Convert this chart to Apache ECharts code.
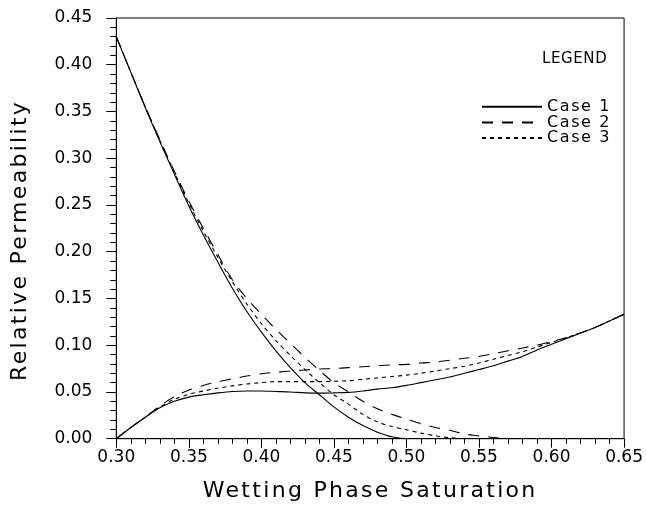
<!DOCTYPE html>
<html>
<head>
<meta charset="utf-8">
<script src="https://cdn.jsdelivr.net/npm/echarts@6/dist/echarts.min.js"></script>
<style>html,body{margin:0;padding:0;background:#fff;}#c{width:646px;height:508px;}</style>
</head>
<body>
<div id="c"></div>
<script>
// Wetting phase saturation grid
var sw = [0.30,0.31,0.32,0.33,0.34,0.35,0.36,0.37,0.38,0.39,0.40,0.41,0.42,0.43,0.44,0.45,0.46,0.47,0.48,0.49,0.50,
          0.51,0.52,0.53,0.54,0.55,0.56,0.57,0.58,0.59,0.60,0.61,0.62,0.63,0.64,0.65];

// Decreasing (non-wetting) relative permeability curves
var case1Dec = [0.430,0.392,0.354,0.318,0.283,0.249,0.218,0.189,0.161,0.136,0.114,0.094,0.076,0.060,0.047,0.034,0.023,0.014,0.007,0.002,0.000];
var case2Dec = [0.430,0.392,0.355,0.320,0.286,0.254,0.225,0.197,0.170,0.150,0.133,0.117,0.102,0.087,0.073,0.060,0.050,0.040,0.032,0.026,0.021,0.016,0.012,0.009,0.005,0.003,0.0012,0.0002,0.000];
var case3Dec = [0.430,0.392,0.355,0.319,0.285,0.252,0.222,0.194,0.168,0.144,0.123,0.105,0.089,0.074,0.060,0.047,0.037,0.026,0.018,0.013,0.0095,0.006,0.003,0.001,0.000];

// Increasing (wetting) relative permeability curves
var case1Inc = [0.000,0.012,0.023,0.033,0.040,0.0445,0.047,0.049,0.0505,0.051,0.051,0.0505,0.050,0.049,0.0487,0.049,0.0495,0.051,0.053,0.0545,0.057,
                0.060,0.063,0.066,0.070,0.074,0.078,0.083,0.088,0.095,0.101,0.107,0.113,0.119,0.126,0.133];
var case2Inc = [0.000,0.012,0.023,0.035,0.045,0.052,0.057,0.061,0.064,0.067,0.0695,0.071,0.0725,0.0735,0.0745,0.075,0.076,0.077,0.078,0.079,0.0795,
                0.081,0.082,0.084,0.086,0.088,0.091,0.094,0.097,0.100,0.104,0.108,0.113,0.119,0.126,0.133];
var case3Inc = [0.000,0.012,0.023,0.034,0.042,0.0475,0.051,0.054,0.0565,0.0585,0.060,0.061,0.061,0.061,0.061,0.0615,0.062,0.0635,0.065,0.0665,0.068,
                0.070,0.0725,0.075,0.0775,0.081,0.085,0.089,0.093,0.098,0.103,0.108,0.113,0.119,0.126,0.133];

var caseNames = ['Case 1','Case 2','Case 3'];
var xTitle = 'Wetting Phase Saturation';
var yTitle = 'Relative Permeability';
var legendTitle = 'LEGEND';

// Wider letter spacing for the stroke-font look of titles and legend text
(function(){
  var P = CanvasRenderingContext2D.prototype;
  var LS = {'22': '2.3px', '16': '1.6px', '15': '0.6px'};
  function apply(ctx){
    var m = /(\d+)px/.exec(ctx.font || '');
    var v = m ? LS[m[1]] : null;
    try { ctx.letterSpacing = v || '0px'; } catch(e) {}
  }
  var of = P.fillText, om = P.measureText;
  P.fillText = function(){ apply(this); return of.apply(this, arguments); };
  P.measureText = function(){ apply(this); return om.apply(this, arguments); };
})();

function pairs(ys){ var out=[]; for (var i=0;i<ys.length;i++){ out.push([sw[i], ys[i]]); } return out; }

var FONT = "'DejaVu Sans', sans-serif";
var dashStyles = ['solid', [11, 9], [4, 4]];
var decs = [case1Dec, case2Dec, case3Dec];
var incs = [case1Inc, case2Inc, case3Inc];
var series = [];
for (var k=0;k<3;k++){
  [decs[k], incs[k]].forEach(function(arr){
    series.push({
      name: caseNames[k], type: 'line', data: pairs(arr), smooth: 0.3,
      symbol: 'none', showSymbol: false, animation: false,
      lineStyle: { color: '#000', width: 1.1, type: dashStyles[k] },
      itemStyle: { color: '#000' }
    });
  });
}

var chart = echarts.init(document.getElementById('c'), null, {renderer:'canvas'});
chart.setOption({
  animation: false,
  backgroundColor: '#fff',
  title: { text: legendTitle, left: 537, top: 46, textStyle: { fontFamily: FONT, fontSize: 15, fontWeight: 'normal', color: '#000' } },
  legend: {
    data: caseNames, orient: 'vertical', left: 476, top: 93,
    itemWidth: 60, itemHeight: 12, itemGap: -2,
    itemStyle: { opacity: 0 },
    textStyle: { fontFamily: FONT, fontSize: 16, color: '#000' }
  },
  grid: { left: 108, right: 17, top: 18, bottom: 60, show: true, borderColor: '#000', borderWidth: 1, backgroundColor: 'transparent' },
  xAxis: {
    type: 'value', min: 0.30, max: 0.65, interval: 0.05,
    name: xTitle, nameLocation: 'middle', nameGap: 40,
    nameTextStyle: { fontFamily: FONT, fontSize: 22, color: '#000' },
    axisLine: { lineStyle: { color: '#000', width: 1 } },
    axisTick: { show: true, inside: false, length: 9, lineStyle: { color: '#000' } },
    minorTick: { show: true, splitNumber: 5, length: 5, lineStyle: { color: '#000' } },
    splitLine: { show: false },
    axisLabel: { fontFamily: FONT, fontSize: 17, color: '#000', margin: 10, formatter: function(v){ return v.toFixed(2); } }
  },
  yAxis: {
    type: 'value', min: 0, max: 0.45, interval: 0.05,
    name: yTitle, nameLocation: 'middle', nameGap: 84, nameRotate: 90,
    nameTextStyle: { fontFamily: FONT, fontSize: 22, color: '#000', padding: [0, 24, 0, 0] },
    axisLine: { show: true, lineStyle: { color: '#000', width: 1 } },
    axisTick: { show: true, inside: false, length: 10, lineStyle: { color: '#000' } },
    minorTick: { show: true, splitNumber: 5, length: 6, lineStyle: { color: '#000' } },
    splitLine: { show: false },
    axisLabel: { fontFamily: FONT, fontSize: 17, color: '#000', margin: 24, formatter: function(v){ return v.toFixed(2); } }
  },
  series: series
});
</script>
</body>
</html>
